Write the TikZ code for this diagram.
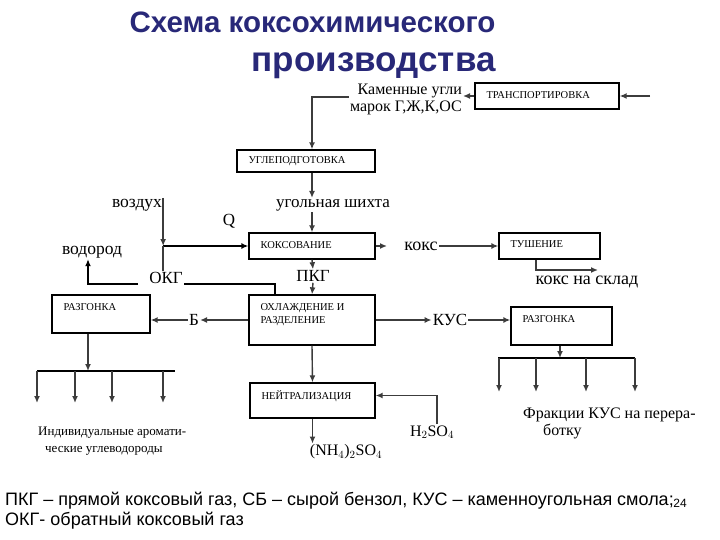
\documentclass[tikz,border=0pt]{standalone}
\usepackage{fontspec}
\setmainfont{Liberation Serif}
\newfontfamily\slidefont{Liberation Sans}
\usetikzlibrary{arrows.meta, positioning, calc}
\definecolor{titleNavy}{RGB}{40, 40, 120}
\definecolor{lineGray}{RGB}{60, 60, 60}

\begin{document}
\begin{tikzpicture}[x=1pt, y=-1pt,
    box/.style={rectangle, draw=black, line width=1.3pt, inner sep=0pt},
    boxtext/.style={anchor=north west, inner sep=0pt, xshift=12pt, yshift=-8.5pt, align=left, font=\fontsize{10.5}{13}\selectfont},
    tag/.style={inner sep=1pt, font=\fontsize{16}{17}\selectfont},
    bigtag/.style={inner sep=1pt, font=\fontsize{17}{19}\selectfont},
    arrow/.style={-{Latex[length=7pt, width=6pt]}, line width=1.4pt, lineGray}
]
\useasboundingbox (0,0) rectangle (720,540);

% Title
\node[anchor=east, font=\slidefont\bfseries\fontsize{29.5}{39}\selectfont, text=titleNavy, align=right] (title) at (499,45) {Схема коксохимического\\{\fontsize{35}{39}\selectfont производства}};

% Process boxes
\node[box, minimum width=144pt, minimum height=26pt, label={[boxtext]north west:ТРАНСПОРТИРОВКА}] (trans) at (547,96) {};
\node[box, minimum width=138pt, minimum height=22pt, label={[boxtext, yshift=1.5pt]north west:УГЛЕПОДГОТОВКА}] (prep) at (306,161) {};
\node[box, minimum width=126pt, minimum height=26pt, label={[boxtext]north west:КОКСОВАНИЕ}] (coking) at (312,246) {};
\node[box, minimum width=101pt, minimum height=26pt, label={[boxtext]north west:ТУШЕНИЕ}] (quench) at (549.5,246) {};
\node[box, minimum width=126pt, minimum height=50pt, label={[boxtext]north west:ОХЛАЖДЕНИЕ И\\РАЗДЕЛЕНИЕ}] (cool) at (312,320) {};
\node[box, minimum width=125pt, minimum height=35pt, label={[boxtext]north west:НЕЙТРАЛИЗАЦИЯ}] (neutr) at (312.5,400.5) {};
\node[box, minimum width=98pt, minimum height=38pt, label={[boxtext]north west:РАЗГОНКА}] (distL) at (101,314) {};
\node[box, minimum width=101pt, minimum height=38pt, label={[boxtext]north west:РАЗГОНКА}] (distR) at (561.5,326) {};

% Stream labels
\node[tag, anchor=east, align=right] (coal) at (463,99) {Каменные угли\\марок Г,Ж,К,ОС};
\node[tag, font=\fontsize{17}{19}\selectfont] (mix) at (333,205) {угольная шихта};
\node[tag, font=\fontsize{18}{19}\selectfont] (coke) at (421,246) {кокс};
\node[tag, font=\fontsize{18}{19}\selectfont] (store) at (587,282) {кокс на склад};
\node[tag, font=\fontsize{17.5}{19}\selectfont] (air) at (137,205) {воздух};
\node[tag, font=\fontsize{17.5}{19}\selectfont] (hydro) at (92,252) {водород};
\node[bigtag] (q) at (229,221) {Q};
\node[bigtag] (okg) at (166,278) {ОКГ};
\node[bigtag] (pkg) at (313,276) {ПКГ};
\node[bigtag] (bnz) at (194,320) {Б};
\node[bigtag] (kus) at (450,320) {КУС};
\node[tag] (acid) at (432,432) {H$_2$SO$_4$};
\node[tag] (ammon) at (346,452) {(NH$_4$)$_2$SO$_4$};
\node[tag, font=\fontsize{13}{17}\selectfont, anchor=west, align=left] (arom) at (37,441) {Индивидуальные аромати-\\\hspace*{7pt}ческие углеводороды};
\node[tag, anchor=west, align=left] (frac) at (522,423) {Фракции КУС на перера-\\\hspace*{20pt}ботку};

% Coal feed
\coordinate (transin) at (650,96);
\draw[arrow] (transin) -- (trans.east);
\draw[arrow] (trans.west) -- (trans.west -| coal.east);
\draw[arrow] ([yshift=2pt]coal.west) -| (coking.north |- prep.north);
\draw[arrow] (coking.north |- prep.south) -- (coking.north |- mix.north);
\draw[arrow] (coking.north |- mix.south) -- (coking.north);

% Coking and coke
\coordinate (cokeout) at (387,246);
\draw[arrow] (coking.east) -- (cokeout);
\draw[arrow] (coke.east) -- (quench.west);
\coordinate (storeend) at (598,270);
\draw[arrow] ([xshift=-13.5pt]quench.south) |- (storeend);

% Heating: air and return gas
\coordinate (junc) at (air.north east |- coking.west);
\draw[arrow] (air.north east) -- (junc);
\draw[arrow, black] (junc) -- (coking.west);
\draw[line width=1.4pt, lineGray] (okg.north -| junc) -- (junc);
\draw[line width=1.4pt, black] ([xshift=-37pt]cool.north) |- ([yshift=-6pt]okg.east);
\draw[arrow, black] ([yshift=-6pt, xshift=-10pt]okg.west) -| ([xshift=-4pt]hydro.south);

% Coke oven gas
\draw[arrow] (coking.south) -- (pkg.north);
\draw[arrow] (pkg.south) -- (cool.north);
\draw[arrow] (cool.west) -- (bnz.east);
\draw[arrow] (bnz.west) -- (bnz.west -| distL.east);
\draw[arrow] (cool.east) -- (kus.west);
\draw[arrow] (kus.east) -- (kus.east -| distR.west);
\draw[arrow] (cool.south) -- (neutr.north);
\draw[arrow] (neutr.south) -- (neutr.south |- ammon.north);
\draw[arrow] ([xshift=5pt]acid.north) |- ([yshift=5pt]neutr.east);

% Benzene fractions
\coordinate (barL) at (88,371);
\draw[arrow] ([xshift=-13pt]distL.south) -- ([xshift=-13pt]distL.south |- barL);
\draw[line width=1.8pt] (barL -| 37,0) -- (barL -| 175,0);
\foreach \x in {37,75,112,163}
  \draw[arrow] (barL -| \x,0) -- ++(0,32);

% Tar fractions
\coordinate (barR) at (560,358);
\draw[arrow] ([xshift=-1.5pt]distR.south) -- ([xshift=-1.5pt]distR.south |- barR);
\draw[line width=1.8pt] (barR -| 498,0) -- (barR -| 635,0);
\foreach \x in {499,536,586,635}
  \draw[arrow] (barR -| \x,0) -- ++(0,34);

% Legend
\node[anchor=north west, align=left, inner sep=0pt, font=\slidefont\fontsize{18}{20}\selectfont] (legend) at (5,492) {ПКГ – прямой коксовый газ, СБ – сырой бензол, КУС – каменноугольная смола;\\ОКГ- обратный коксовый газ};
\node[inner sep=0pt, font=\slidefont\fontsize{12}{13}\selectfont] (pagenum) at (680,503) {24};

\end{tikzpicture}
\end{document}
